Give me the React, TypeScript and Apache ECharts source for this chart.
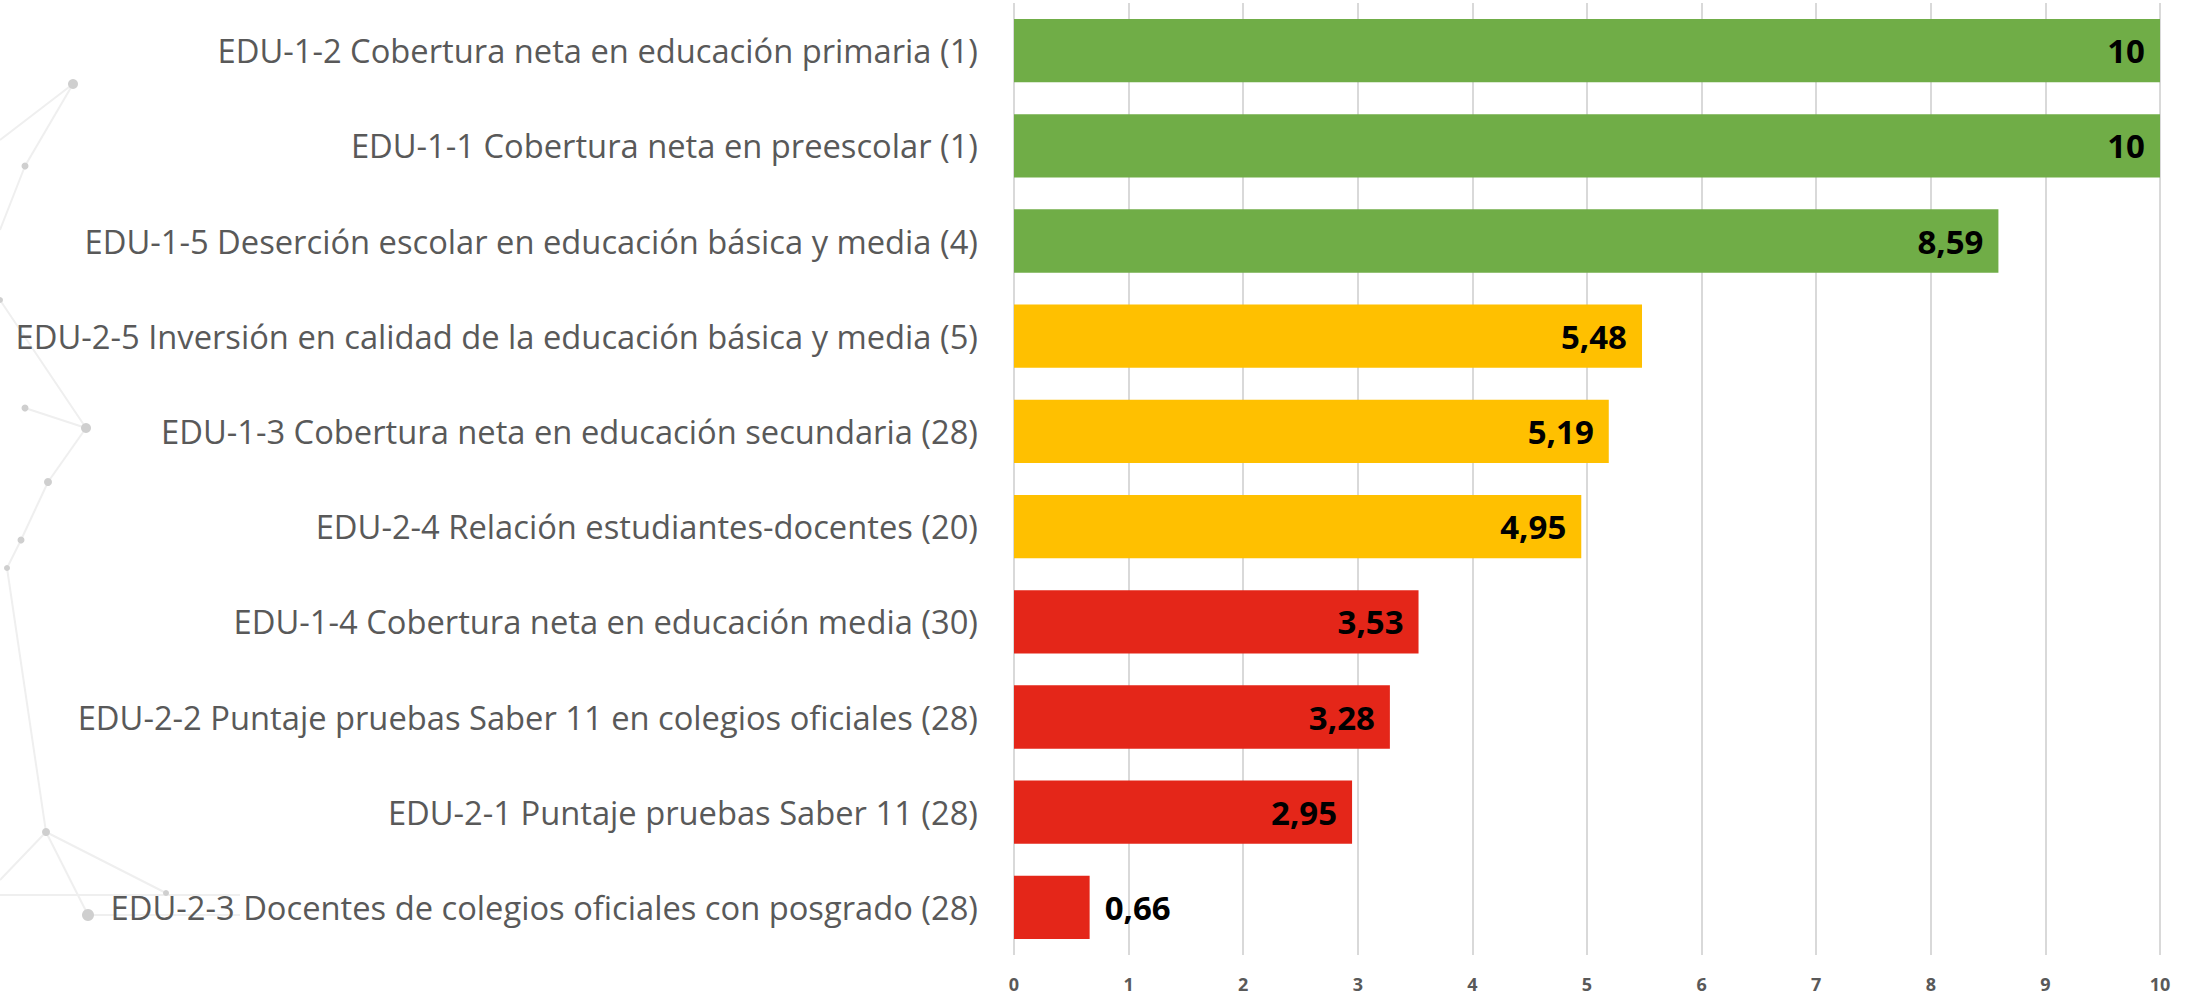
import React, { useEffect, useRef } from "react";
import * as echarts from "echarts";

const categories = [
  "EDU-1-2 Cobertura neta en educación primaria (1)",
  "EDU-1-1 Cobertura neta en preescolar (1)",
  "EDU-1-5 Deserción escolar en educación básica y media (4)",
  "EDU-2-5 Inversión en calidad de la educación básica y media (5)",
  "EDU-1-3 Cobertura neta en educación secundaria (28)",
  "EDU-2-4 Relación estudiantes-docentes (20)",
  "EDU-1-4 Cobertura neta en educación media (30)",
  "EDU-2-2 Puntaje pruebas Saber 11 en colegios oficiales (28)",
  "EDU-2-1 Puntaje pruebas Saber 11 (28)",
  "EDU-2-3 Docentes de colegios oficiales con posgrado (28)",
];
const values = [10, 10, 8.59, 5.48, 5.19, 4.95, 3.53, 3.28, 2.95, 0.66];
const colors = [
  "#70AD47", "#70AD47", "#70AD47",
  "#FFC000", "#FFC000", "#FFC000",
  "#E42619", "#E42619", "#E42619", "#E42619",
];
const xTicks = [0, 1, 2, 3, 4, 5, 6, 7, 8, 9, 10];

// faint decorative network in the background (left side)
const decoDots: [number, number, number][] = [
  [73, 84, 5], [25, 166, 3.5], [0, 300, 3], [25, 408, 3.5], [86, 428, 5],
  [48, 482, 4], [21, 540, 3.5], [7, 568, 3], [46, 832, 4], [88, 915, 6],
  [166, 893, 3],
];
const decoLines: [number, number, number, number][] = [
  [73, 84, 0, 140], [73, 84, 25, 166], [25, 166, 0, 230], [0, 300, 86, 428],
  [25, 408, 86, 428], [86, 428, 48, 482], [48, 482, 21, 540], [21, 540, 7, 568],
  [7, 568, 46, 832], [46, 832, 0, 880], [46, 832, 88, 915], [46, 832, 166, 893],
  [0, 895, 240, 895], [88, 915, 240, 915],
];

const fmt = (v: number) =>
  Number.isInteger(v) ? String(v) : v.toFixed(2).replace(".", ",");

export default function App() {
  const ref = useRef<HTMLDivElement>(null);
  useEffect(() => {
    if (!ref.current) return;
    const chart = echarts.init(ref.current, undefined, { renderer: "svg" });
    chart.setOption({
      animation: false,
      backgroundColor: "#ffffff",
      graphic: [
        ...decoLines.map(([x1, y1, x2, y2]) => ({
          type: "line",
          silent: true,
          z: -10,
          shape: { x1, y1, x2, y2 },
          style: { stroke: "#EFEFEF", lineWidth: 2 },
        })),
        ...decoDots.map(([cx, cy, r]) => ({
          type: "circle",
          silent: true,
          z: -9,
          shape: { cx, cy, r },
          style: { fill: "#CFCFCF" },
        })),
      ],
      grid: { left: 1014, right: 35, top: 3, bottom: 42, containLabel: false },
      xAxis: {
        type: "value",
        min: xTicks[0],
        max: xTicks[xTicks.length - 1],
        interval: 1,
        axisLine: { show: false },
        axisTick: { show: false },
        splitLine: { show: true, lineStyle: { color: "#D9D9D9", width: 2 } },
        axisLabel: {
          color: "#595959",
          fontFamily: "Open Sans",
          fontWeight: "bold",
          fontSize: 18,
          margin: 20,
        },
      },
      yAxis: {
        type: "category",
        data: categories,
        inverse: true,
        axisLine: { show: false },
        axisTick: { show: false },
        splitLine: { show: false },
        axisLabel: {
          color: "#595959",
          fontFamily: "Open Sans",
          fontSize: 32.7,
          margin: 36,
        },
      },
      series: [
        {
          type: "bar",
          barCategoryGap: "33.5%",
          data: values.map((v, i) => ({
            value: v,
            itemStyle: { color: colors[i] },
            label: {
              position: v < 1 ? "right" : "insideRight",
            },
          })),
          label: {
            show: true,
            distance: 15,
            color: "#000000",
            fontFamily: "Open Sans",
            fontWeight: "bold",
            fontSize: 33,
            formatter: (p: any) => fmt(p.value),
          },
        },
      ],
    });
    return () => chart.dispose();
  }, []);
  return (
    <div
      ref={ref}
      style={{ position: "fixed", left: 0, top: 0, width: 2195, height: 997 }}
    />
  );
}
